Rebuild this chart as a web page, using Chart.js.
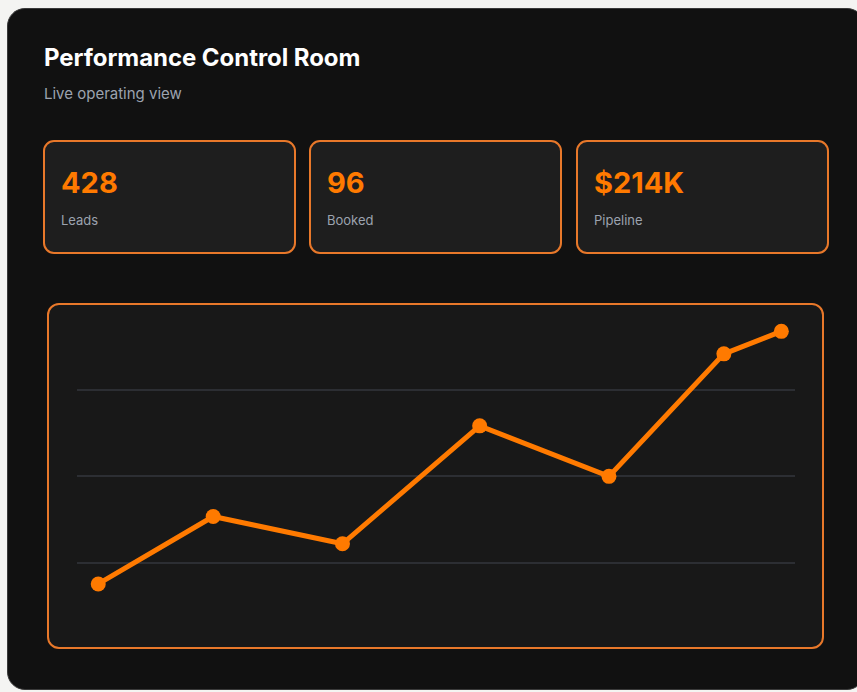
<!DOCTYPE html>
<html>
<head>
<meta charset="utf-8">
<script src="https://cdn.jsdelivr.net/npm/chart.js@4"></script>
<style>
  html, body { margin: 0; padding: 0; background: #f4f4f2; width: 857px; height: 692px; overflow: hidden; font-family: Inter, "Noto Sans", sans-serif; }
  .panel { position: absolute; left: 7px; top: 8px; width: 858px; height: 682px; background: #111111; border: 1px solid #3a3a3a; border-radius: 18px; box-sizing: border-box; }
  .title { position: absolute; left: 44px; top: 43px; font-size: 24px; font-weight: 700; color: #ffffff; line-height: 30px; white-space: nowrap; letter-spacing: -0.05px; }
  .sub { position: absolute; left: 44px; top: 84px; font-size: 15px; color: #9ca3af; line-height: 20px; white-space: nowrap; }
  .card { position: absolute; top: 140px; width: 253px; height: 114px; background: #1e1e1e; border: 2px solid #e8782a; border-radius: 11px; box-sizing: border-box; }
  .card .v { position: absolute; left: 16px; top: 23px; font-size: 29px; font-weight: 700; color: #ff7a00; line-height: 36px; white-space: nowrap; }
  .card .l { position: absolute; left: 16px; top: 69px; font-size: 13px; color: #9ca3af; line-height: 18px; white-space: nowrap; }
  .box { position: absolute; left: 47px; top: 303px; width: 777px; height: 346px; background: #181818; border: 2px solid #e8782a; border-radius: 12px; box-sizing: border-box; }
  .cw { position: absolute; left: 47px; top: 303px; width: 777px; height: 346px; }
</style>
</head>
<body>
<div class="panel"></div>
<div class="title">Performance Control Room</div>
<div class="sub">Live operating view</div>
<div id="cards"></div>
<div class="box"></div>
<div class="cw"><canvas id="c"></canvas></div>
<script>
const kpiValues = ["428", "96", "$214K"];
const kpiLabels = ["Leads", "Booked", "Pipeline"];
const xValues = [3, 19, 37, 56.1, 74.1, 90.1, 98.1];
const yValues = [18.8, 38.3, 30.4, 64.5, 49.9, 85.3, 91.8];

const cardLefts = [43, 309, 576];
const cardsEl = document.getElementById('cards');
kpiValues.forEach((v, i) => {
  const d = document.createElement('div');
  d.className = 'card';
  d.style.left = cardLefts[i] + 'px';
  d.innerHTML = '<div class="v"></div><div class="l"></div>';
  d.querySelector('.v').textContent = v;
  d.querySelector('.l').textContent = kpiLabels[i];
  cardsEl.appendChild(d);
});

const points = xValues.map((x, i) => ({ x: x, y: yValues[i] }));

new Chart(document.getElementById('c'), {
  type: 'line',
  data: {
    datasets: [{
      data: points,
      borderColor: '#ff7a00',
      backgroundColor: '#ff7a00',
      borderWidth: 5,
      pointRadius: 7.5,
      pointBorderWidth: 0,
      pointBackgroundColor: '#ff7a00',
      tension: 0,
      clip: false
    }]
  },
  options: {
    responsive: true,
    maintainAspectRatio: false,
    animation: false,
    layout: { autoPadding: false, padding: { left: 29.7, right: 29, top: 0, bottom: 0 } },
    plugins: { legend: { display: false }, tooltip: { enabled: false } },
    scales: {
      x: {
        type: 'linear', min: 0, max: 100,
        display: false
      },
      y: {
        type: 'linear', min: 0, max: 100,
        ticks: { display: false, stepSize: 25 },
        border: { display: false },
        grid: {
          drawTicks: false,
          lineWidth: 2,
          color: (ctx) => (ctx.tick && (ctx.tick.value === 0 || ctx.tick.value === 100)) ? 'rgba(0,0,0,0)' : '#2c2e33'
        }
      }
    }
  }
});
</script>
</body>
</html>
